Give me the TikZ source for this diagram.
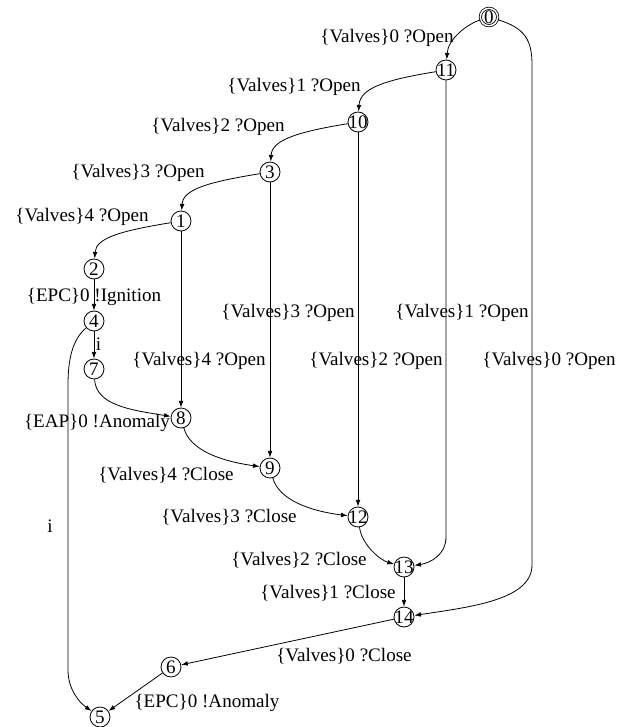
\documentclass[tikz,border=0pt]{standalone}
\usepackage{fontspec}
\setmainfont{Liberation Serif}
\usetikzlibrary{arrows.meta}
\newcommand{\sid}[1]{\makebox[0pt]{#1}}
\begin{document}
\begin{tikzpicture}[
    x=0.75pt, y=-0.75pt,
    font=\fontsize{14.3}{16}\selectfont,
    state/.style={circle, draw, line width=0.6pt, inner sep=0pt, minimum size=15pt},
    accept/.style={state, double, double distance=1.1pt, minimum size=13pt},
    lbl/.style={inner sep=0pt},
    arrow/.style={-{Latex[length=5pt,width=3.5pt]}, line width=0.6pt}
]
\useasboundingbox (0,0) rectangle (626,727);

\node[accept] (s0) at (489,17) {\sid{0}};
\node[state] (s11) at (446,70) {\sid{11}};
\node[state] (s10) at (358,122) {\sid{10}};
\node[state] (s3) at (270,172) {\sid{3}};
\node[state] (s1) at (181,221) {\sid{1}};
\node[state] (s2) at (94,269) {\sid{2}};
\node[state] (s4) at (94,321) {\sid{4}};
\node[state] (s7) at (94,369) {\sid{7}};
\node[state] (s8) at (181,418) {\sid{8}};
\node[state] (s9) at (270,468) {\sid{9}};
\node[state] (s12) at (358,517) {\sid{12}};
\node[state] (s13) at (404,567) {\sid{13}};
\node[state] (s14) at (404,617) {\sid{14}};
\node[state] (s6) at (171,667) {\sid{6}};
\node[state] (s5) at (100,717) {\sid{5}};

% opening the valves
\draw[arrow] (s0) .. controls (465,25) and (448,40) .. (s11);
\draw[arrow] (s11) .. controls (385,80) and (360,88) .. (s10);
\draw[arrow] (s10) .. controls (297,132) and (272,140) .. (s3);
\draw[arrow] (s3) .. controls (209,182) and (183,189) .. (s1);
\draw[arrow] (s1) .. controls (120,231) and (96,238) .. (s2);
\draw[arrow] (s2) -- (s4);
\draw[arrow] (s4) -- (s7);
\draw[arrow] (s7) .. controls (96,405) and (130,410) .. (s8);
\draw[arrow] (s4) .. controls (72,340) and (68,360) .. (68,385) -- (68,670)
    .. controls (68,690) and (80,703) .. (s5);

% long branches
\draw[arrow] (s1) -- (s8);
\draw[arrow] (s3) -- (s9);
\draw[arrow] (s10) -- (s12);
\draw[arrow] (s11) -- (446,537) .. controls (446,555) and (430,563) .. (s13);
\draw[arrow] (s0) .. controls (525,28) and (532,40) .. (532,65) -- (532,565)
    .. controls (532,600) and (470,607) .. (s14);

% closing the valves
\draw[arrow] (s8) .. controls (190,450) and (220,461) .. (s9);
\draw[arrow] (s9) .. controls (279,500) and (310,511) .. (s12);
\draw[arrow] (s12) .. controls (362,545) and (380,560) .. (s13);
\draw[arrow] (s13) -- (s14);
\draw[arrow] (s14) -- (s6);
\draw[arrow] (s6) -- (s5);

% labels
\node[lbl] (l0) at (387,38) {\{Valves\}0 ?Open};
\node[lbl] (l11) at (294,87) {\{Valves\}1 ?Open};
\node[lbl] (l10) at (218,127) {\{Valves\}2 ?Open};
\node[lbl] (l3) at (138,173) {\{Valves\}3 ?Open};
\node[lbl] (l1) at (82,217) {\{Valves\}4 ?Open};
\node[lbl] (l2) at (94,297) {\{EPC\}0 !Ignition};
\node[lbl] (l4) at (98.5,344) {i};
\node[lbl] (l7) at (97,423) {\{EAP\}0 !Anomaly};
\node[lbl] (l45) at (50,526) {i};
\node[lbl] (l18) at (199,361) {\{Valves\}4 ?Open};
\node[lbl] (l39) at (288,313) {\{Valves\}3 ?Open};
\node[lbl] (l1012) at (376,361) {\{Valves\}2 ?Open};
\node[lbl] (l1113) at (462,313) {\{Valves\}1 ?Open};
\node[lbl] (l014) at (549,361) {\{Valves\}0 ?Open};
\node[lbl] (l8) at (166,475) {\{Valves\}4 ?Close};
\node[lbl] (l9) at (229,517) {\{Valves\}3 ?Close};
\node[lbl] (l12) at (299,560) {\{Valves\}2 ?Close};
\node[lbl] (l13) at (328,593) {\{Valves\}1 ?Close};
\node[lbl] (l14) at (344,656) {\{Valves\}0 ?Close};
\node[lbl] (l6) at (207,703) {\{EPC\}0 !Anomaly};
\end{tikzpicture}
\end{document}
